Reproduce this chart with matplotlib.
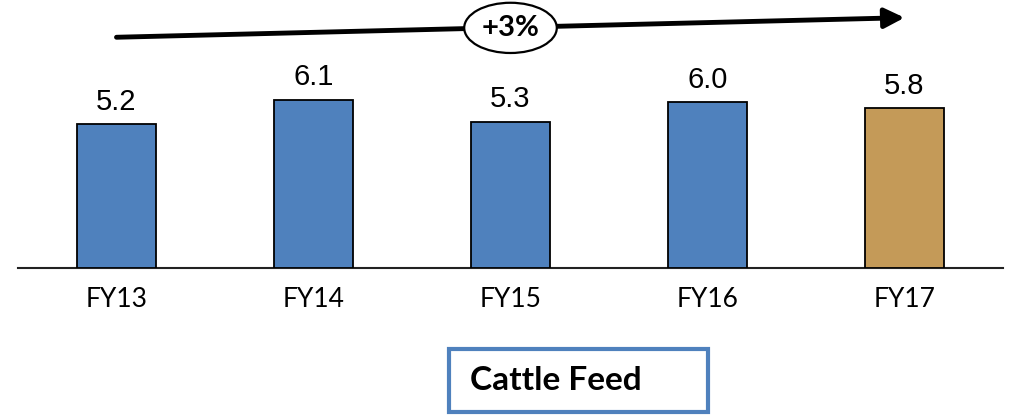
import matplotlib
matplotlib.use("Agg")
import matplotlib.pyplot as plt
from matplotlib.patches import Ellipse, Rectangle

# data
years = ["FY13", "FY14", "FY15", "FY16", "FY17"]
values = [5.2, 6.1, 5.3, 6.0, 5.8]
bar_colors = ["#4F81BD", "#4F81BD", "#4F81BD", "#4F81BD", "#C49A58"]
growth_label = "+3%"
box_title = "Cattle Feed"

fig = plt.figure(figsize=(10.2, 4.18), dpi=100)
ax = fig.add_axes([18 / 1020, 1 - 268 / 418, 985 / 1020, 268 / 418])

x = list(range(len(years)))
bars = ax.bar(x, values, width=0.4, color=bar_colors, edgecolor="black", linewidth=1.3, zorder=3)
ax.bar_label(bars, labels=[f"{v:.1f}" for v in values], padding=6,
             fontsize=21, family="Liberation Sans")

ax.set_xlim(-0.5, 4.5)
ax.set_ylim(0, 9.71)
ax.set_yticks([])
ax.set_xticks(x)
ax.set_xticklabels(years, fontsize=19, family="Lato")
ax.tick_params(axis="x", length=0, pad=14)
for s in ["top", "right", "left"]:
    ax.spines[s].set_visible(False)
ax.spines["bottom"].set_linewidth(1.5)
ax.spines["bottom"].set_color("#222222")

# growth arrow with ellipse
ax.annotate("", xy=(4.0, 9.07), xytext=(0.0, 8.36),
            arrowprops=dict(arrowstyle="-|>,head_length=0.6,head_width=0.3",
                            lw=3.5, color="black", shrinkA=0, shrinkB=0,
                            mutation_scale=20),
            annotation_clip=False, zorder=4)
ell = Ellipse((2.0, 8.70), 0.47, 1.82, facecolor="white", edgecolor="black",
              linewidth=1.6, clip_on=False, zorder=5)
ax.add_patch(ell)
ax.text(2.0, 8.68, growth_label, ha="center", va="center", fontsize=21,
        fontweight="bold", family="Lato", zorder=6)

# title box at bottom
rect = Rectangle((449 / 1020, 1 - 412 / 418), 259 / 1020, 63 / 418,
                 transform=fig.transFigure, facecolor="white",
                 edgecolor="#4F81BD", linewidth=3)
fig.patches.append(rect)
fig.text(470 / 1020, 1 - 381 / 418, box_title, ha="left", va="center",
         fontsize=24, fontweight="bold", family="Lato")

fig.savefig("out.png", dpi=100)
